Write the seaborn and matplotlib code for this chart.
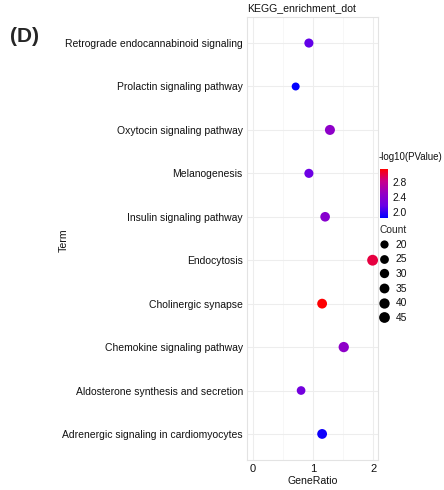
import numpy as np
import pandas as pd
import matplotlib
matplotlib.use("Agg")
import matplotlib.pyplot as plt
import seaborn as sns
from matplotlib.colors import LinearSegmentedColormap, Normalize
from matplotlib.lines import Line2D
from matplotlib.ticker import MultipleLocator

# ---- data (top to bottom) ----
terms = [
    "Retrograde endocannabinoid signaling",
    "Prolactin signaling pathway",
    "Oxytocin signaling pathway",
    "Melanogenesis",
    "Insulin signaling pathway",
    "Endocytosis",
    "Cholinergic synapse",
    "Chemokine signaling pathway",
    "Aldosterone synthesis and secretion",
    "Adrenergic signaling in cardiomyocytes",
]
gene_ratio = [0.93, 0.71, 1.28, 0.93, 1.20, 1.99, 1.15, 1.51, 0.80, 1.15]
counts = [28, 18, 37, 28, 33, 46, 35, 40, 24, 35]
neglog_p = [2.15, 1.86, 2.45, 2.2, 2.4, 3.0, 3.14, 2.45, 2.25, 1.9]
count_breaks = [20, 25, 30, 35, 40, 45]
cbar_ticks = [2.0, 2.4, 2.8]
xticks = [0, 1, 2]

df = pd.DataFrame({"Term": terms, "GeneRatio": gene_ratio,
                   "Count": counts, "negLogP": neglog_p})

sns.set_theme(style="whitegrid")
plt.rcParams['font.family'] = ['Liberation Sans', 'DejaVu Sans']

W, H = 444, 490
fig = plt.figure(figsize=(W / 100, H / 100), dpi=100)
fig.patch.set_facecolor("white")

L, R, T, B = 247, 378, 17, 460
ax = fig.add_axes([L / W, 1 - B / H, (R - L) / W, (B - T) / H])

cmap = LinearSegmentedColormap.from_list(
    "br", ["#0000FF", "#6A00E6", "#9400C4", "#C8008C", "#FF0000"])
hnorm = Normalize(1.85, 3.15)
size_norm = (15, 47)
size_range = (30, 62)

sns.scatterplot(data=df, x="GeneRatio", y="Term", hue="negLogP",
                hue_norm=hnorm, palette=cmap, size="Count",
                sizes=size_range, size_norm=size_norm, legend=False,
                linewidth=0, ax=ax, zorder=3)

ax.set_xlim(-0.1, 2.08)
ax.set_ylim(len(terms) - 0.4, -0.6)
ax.set_xticks(xticks)
ax.xaxis.set_minor_locator(MultipleLocator(0.5))
ax.grid(which="major", color="#EDEDED", linewidth=0.8)
ax.grid(which="minor", axis="x", color="#F4F4F4", linewidth=0.5)
ax.set_facecolor("white")
for s in ax.spines.values():
    s.set_color("#E3E3E3")
    s.set_linewidth(0.8)
ax.tick_params(axis="y", which="both", length=0, labelsize=7.5,
               labelcolor="#111111", pad=3)
ax.tick_params(axis="x", which="both", length=0, labelsize=8,
               labelcolor="#111111", pad=3)
ax.set_xlabel("GeneRatio", fontsize=7.6, color="#111111", labelpad=1)
ax.set_ylabel("")
fig.text(64 / W, 1 - 240 / H, "Term", rotation=90, fontsize=7.6,
         color="#111111", ha="center", va="center")
ax.set_title("KEGG_enrichment_dot", loc="left", fontsize=7.6,
             color="#111111", pad=4)

fig.text(10 / W, 1 - 37 / H, "(D)", fontsize=15, fontweight="bold",
         ha="left", va="center")

# colorbar legend
fig.text(379 / W, 1 - 157 / H, "-log10(PValue)", fontsize=7,
         color="#111111", ha="left", va="center")
cax = fig.add_axes([380 / W, 1 - 218 / H, 8 / W, 49 / H])
cb = matplotlib.colorbar.ColorbarBase(cax, cmap=cmap, norm=hnorm,
                                      ticks=cbar_ticks)
cb.outline.set_visible(False)
cb.ax.tick_params(length=0, labelsize=7.4, pad=3, labelcolor="#111111")
cb.ax.set_yticklabels([f"{t:.1f}" for t in cbar_ticks])

# size legend
def area(c):
    f = (c - size_norm[0]) / (size_norm[1] - size_norm[0])
    return size_range[0] + f * (size_range[1] - size_range[0])

handles = [Line2D([], [], marker="o", linestyle="", color="black",
                  markersize=np.sqrt(area(c)), markeredgewidth=0)
           for c in count_breaks]
leg = fig.legend(handles, [str(c) for c in count_breaks], title="Count",
                 loc="upper left", bbox_to_anchor=(373 / W, 1 - 219 / H),
                 frameon=False, fontsize=7.4, title_fontsize=7.4,
                 labelspacing=0.45, handlelength=1.0, handletextpad=0.6,
                 borderpad=0.1, alignment="left")
for t in leg.get_texts():
    t.set_color("#111111")

fig.savefig("out.png", dpi=100, facecolor="white")
